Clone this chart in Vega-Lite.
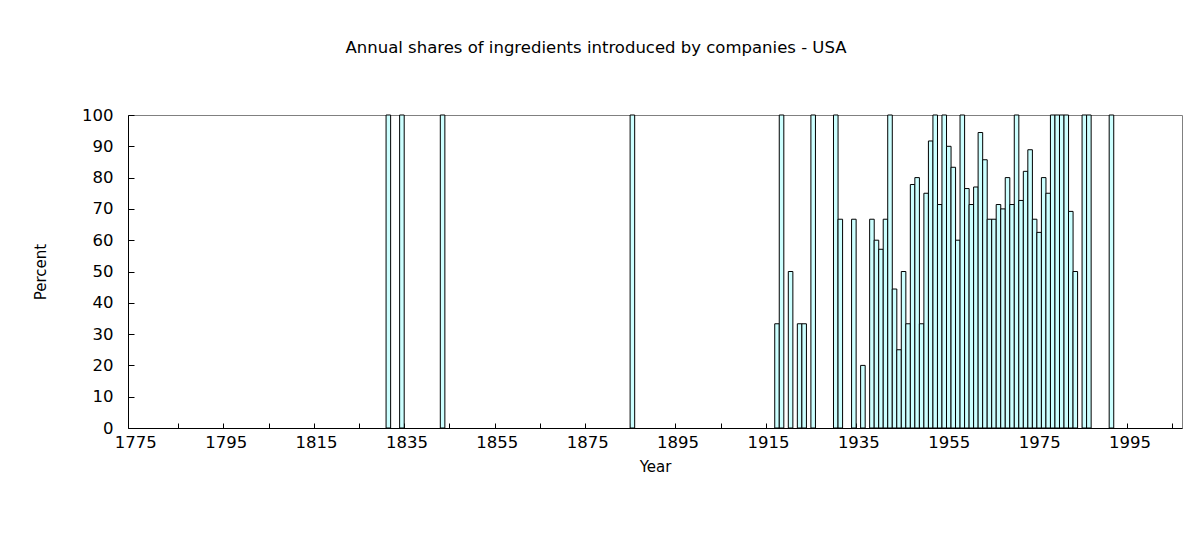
{
  "$schema": "https://vega.github.io/schema/vega-lite/v6.json",
  "width": 1054,
  "height": 313,
  "autosize": {"type": "none"},
  "padding": {"left": 128, "top": 115, "right": 11, "bottom": 108},
  "background": "white",
  "config": {
    "font": "DejaVu Sans",
    "view": {"stroke": "#808080", "strokeWidth": 1},
    "axis": {"labelFont": "DejaVu Sans", "titleFont": "DejaVu Sans", "labelColor": "black", "titleColor": "black", "domainColor": "black", "tickColor": "black", "titleFontWeight": "normal", "grid": false}
  },
  "title": {
    "text": "Annual shares of ingredients introduced by companies - USA",
    "fontSize": 16.5,
    "fontWeight": "normal",
    "font": "DejaVu Sans",
    "color": "black",
    "anchor": "middle",
    "dx": -59,
    "offset": 51
  },
  "data": {
    "values": [
      {"year": 1831, "pct": 100}, {"year": 1834, "pct": 100}, {"year": 1843, "pct": 100}, {"year": 1885, "pct": 100},
      {"year": 1917, "pct": 33.3}, {"year": 1918, "pct": 100}, {"year": 1920, "pct": 50}, {"year": 1922, "pct": 33.3},
      {"year": 1923, "pct": 33.3}, {"year": 1925, "pct": 100}, {"year": 1930, "pct": 100}, {"year": 1931, "pct": 66.7},
      {"year": 1934, "pct": 66.7}, {"year": 1936, "pct": 20}, {"year": 1938, "pct": 66.7}, {"year": 1939, "pct": 60},
      {"year": 1940, "pct": 57.1}, {"year": 1941, "pct": 66.7}, {"year": 1942, "pct": 100}, {"year": 1943, "pct": 44.4},
      {"year": 1944, "pct": 25}, {"year": 1945, "pct": 50}, {"year": 1946, "pct": 33.3}, {"year": 1947, "pct": 77.8},
      {"year": 1948, "pct": 80}, {"year": 1949, "pct": 33.3}, {"year": 1950, "pct": 75}, {"year": 1951, "pct": 91.7},
      {"year": 1952, "pct": 100}, {"year": 1953, "pct": 71.4}, {"year": 1954, "pct": 100}, {"year": 1955, "pct": 90},
      {"year": 1956, "pct": 83.3}, {"year": 1957, "pct": 60}, {"year": 1958, "pct": 100}, {"year": 1959, "pct": 76.5},
      {"year": 1960, "pct": 71.4}, {"year": 1961, "pct": 77}, {"year": 1962, "pct": 94.4}, {"year": 1963, "pct": 85.7},
      {"year": 1964, "pct": 66.7}, {"year": 1965, "pct": 66.7}, {"year": 1966, "pct": 71.4}, {"year": 1967, "pct": 70},
      {"year": 1968, "pct": 80}, {"year": 1969, "pct": 71.4}, {"year": 1970, "pct": 100}, {"year": 1971, "pct": 72.7},
      {"year": 1972, "pct": 82}, {"year": 1973, "pct": 88.9}, {"year": 1974, "pct": 66.7}, {"year": 1975, "pct": 62.5},
      {"year": 1976, "pct": 80}, {"year": 1977, "pct": 75}, {"year": 1978, "pct": 100}, {"year": 1979, "pct": 100},
      {"year": 1980, "pct": 100}, {"year": 1981, "pct": 100}, {"year": 1982, "pct": 69.2}, {"year": 1983, "pct": 50},
      {"year": 1985, "pct": 100}, {"year": 1986, "pct": 100}, {"year": 1991, "pct": 100}
    ]
  },
  "resolve": {"axis": {"x": "independent"}},
  "layer": [
    {
      "mark": {"type": "bar", "fill": "#CCFFFF", "stroke": "black", "strokeWidth": 1, "width": {"expr": "width/231"}},
      "encoding": {
        "x": {
          "field": "year", "type": "quantitative",
          "scale": {"domain": [1774.5, 2005.5], "nice": false, "zero": false},
          "axis": {
            "orient": "bottom",
            "title": "Year", "titleFontSize": 15, "titlePadding": 9,
            "values": [1775, 1795, 1815, 1835, 1855, 1875, 1895, 1915, 1935, 1955, 1975, 1995],
            "format": "d", "ticks": false, "labelFontSize": 16.5, "labelPadding": 6, "labelFlush": false, "labelOverlap": false
          }
        },
        "y": {
          "field": "pct", "type": "quantitative",
          "scale": {"domain": [0, 100], "nice": false},
          "axis": {
            "title": "Percent", "titleFontSize": 15, "titlePadding": 33,
            "values": [0, 10, 20, 30, 40, 50, 60, 70, 80, 90, 100],
            "tickSize": -6, "labelFontSize": 16.5, "labelPadding": 21, "labelFlush": false
          }
        }
      }
    },
    {
      "mark": {"type": "tick", "opacity": 0},
      "encoding": {
        "x": {
          "field": "year", "type": "quantitative",
          "axis": {
            "orient": "bottom", "title": null, "labels": false, "domain": false,
            "values": [1784.5, 1794.5, 1804.5, 1814.5, 1824.5, 1834.5, 1844.5, 1854.5, 1864.5, 1874.5, 1884.5, 1894.5, 1904.5, 1914.5, 1924.5, 1934.5, 1944.5, 1954.5, 1964.5, 1974.5, 1984.5, 1994.5, 2004.5],
            "tickSize": -5
          }
        }
      }
    }
  ]
}
